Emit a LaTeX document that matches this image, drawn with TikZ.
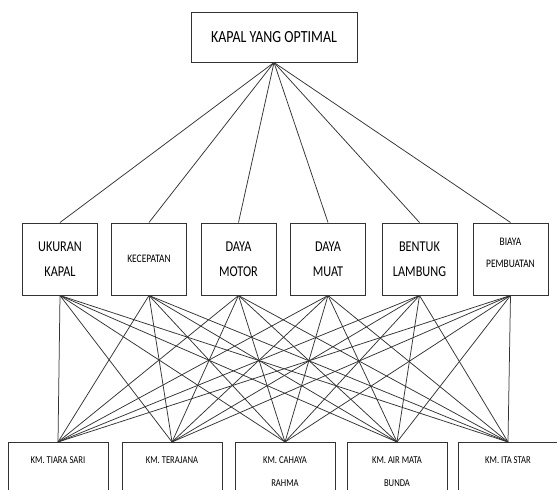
\documentclass[tikz,border=0pt]{standalone}
\usepackage{fontspec}
\setmainfont{Carlito}[FakeStretch = 0.82]
\usetikzlibrary{positioning}
\tikzset{kotak/.style = {draw = black!80, line width = 1pt, align = center, inner sep = 0pt}}
\tikzset{garis/.style = {draw = black!80, line width = 0.75pt}}

\begin{document}
\begin{tikzpicture}[x = 1pt, y = -1pt]
\useasboundingbox (0,0) rectangle (557,490);
\clip (0,0) rectangle (557,490);
\node [kotak, minimum width = 166pt, minimum height = 50pt, font = \fontsize{17}{19}\selectfont] (tujuan) at (274,37) {KAPAL YANG OPTIMAL};
% kriteria
\foreach \n/\x/\f/\t in {ukuran/60/{\fontsize{15}{25}}/{UKURAN\\KAPAL}, kecepatan/149/{\fontsize{11.5}{12}}/{KECEPATAN}, motor/238.5/{\fontsize{15}{25}}/{DAYA\\MOTOR}, muat/328/{\fontsize{15}{25}}/{DAYA\\MUAT}, bentuk/419.5/{\fontsize{15}{25}}/{BENTUK\\LAMBUNG}, biaya/510.5/{\fontsize{11.5}{22}}/{BIAYA\\PEMBUATAN\rule[-13pt]{0pt}{13pt}}}
  \node [kotak, minimum width = 75pt, minimum height = 72pt, font = \f\selectfont] (\n) at (\x,259) {\t};
% alternatif
\foreach \n/\x/\t in {tiara/58/{KM. TIARA SARI\\\strut}, terajana/172/{KM. TERAJANA\\\strut}, cahaya/285/{KM. CAHAYA\\RAHMA}, airmata/397/{KM. AIR MATA\\BUNDA}, ita/508/{KM. ITA STAR\\\strut}}
  \node [kotak, anchor = north, minimum width = 100pt, inner ysep = 14pt, font = \fontsize{10.5}{23}\selectfont] (\n) at (\x,442) {\t};
\foreach \k in {ukuran, kecepatan, motor, muat, bentuk, biaya}
  \draw [garis] (tujuan.south) -- (\k.north);
\foreach \k in {ukuran, kecepatan, motor, muat, bentuk, biaya}
  \foreach \a in {tiara, terajana, cahaya, airmata, ita}
    \draw [garis] (\k.south) -- (\a.north);
\end{tikzpicture}
\end{document}
